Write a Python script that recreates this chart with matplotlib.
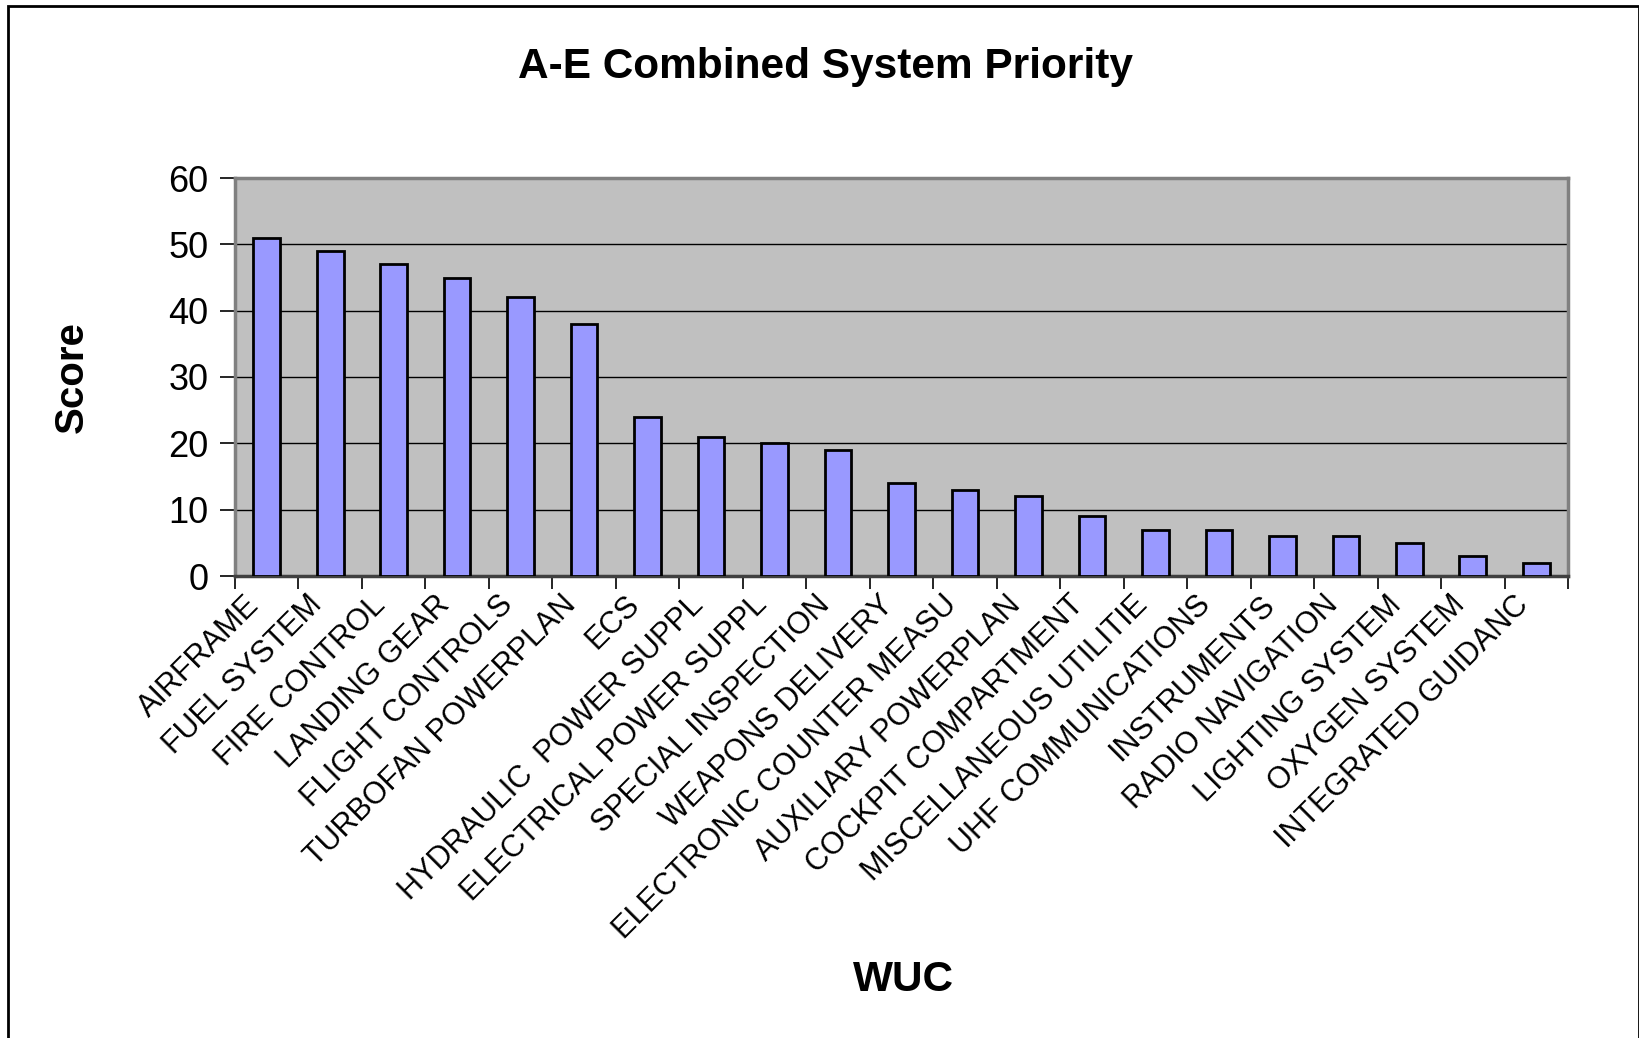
import numpy as np
import matplotlib.pyplot as plt
from matplotlib.patches import Rectangle
from matplotlib.transforms import ScaledTranslation

plt.rcParams['font.family'] = ['Liberation Sans', 'DejaVu Sans']

# Kategorie (etykiety obcięte jak w oryginale)
systems = ["AIRFRAME", "FUEL SYSTEM", "FIRE CONTROL", "LANDING GEAR",
           "FLIGHT CONTROLS", "TURBOFAN POWERPLAN", "ECS",
           "HYDRAULIC  POWER SUPPL", "ELECTRICAL POWER SUPPL",
           "SPECIAL INSPECTION", "WEAPONS DELIVERY",
           "ELECTRONIC COUNTER MEASU", "AUXILIARY POWERPLAN",
           "COCKPIT COMPARTMENT", "MISCELLANEOUS UTILITIE",
           "UHF COMMUNICATIONS", "INSTRUMENTS", "RADIO NAVIGATION",
           "LIGHTING SYSTEM", "OXYGEN SYSTEM", "INTEGRATED GUIDANC"]
scores = [51, 49, 47, 45, 42, 38, 24, 21, 20, 19, 14, 13, 12, 9, 7, 7, 6, 6, 5, 3, 2]
y_ticks = [0, 10, 20, 30, 40, 50, 60]

fig = plt.figure(figsize=(16.4, 10.38), dpi=100)
ax = fig.add_axes([235 / 1640, 1 - 576 / 1038, (1568 - 235) / 1640, (576 - 178) / 1038])

x = np.arange(len(systems))
ax.set_facecolor('#C0C0C0')
ax.bar(x, scores, width=0.42, color='#9999FF', edgecolor='black', linewidth=2, zorder=3)

ax.set_xlim(-0.5, len(systems) - 0.5)
ax.set_ylim(0, 60)
ax.set_yticks(y_ticks)
ax.yaxis.grid(True, color='black', linewidth=1, zorder=1)
ax.set_axisbelow(True)

# ticki na osi x miedzy kategoriami, etykiety na srodku
ax.set_xticks(x)
ax.set_xticklabels(systems, rotation=45, ha='right', rotation_mode='anchor', fontsize=22)
ax.set_xticks(np.arange(-0.5, len(systems)), minor=True)
ax.tick_params(axis='x', which='major', length=0, pad=10)
ax.tick_params(axis='x', which='minor', length=9, width=1.2, color='black')
ax.tick_params(axis='y', length=11, width=1.2, color='black', labelsize=26, pad=8)

shift = ScaledTranslation(-23 / 100, 0, fig.dpi_scale_trans)
for lab in ax.get_xticklabels():
    lab.set_transform(lab.get_transform() + shift)

for s in ax.spines.values():
    s.set_color('#808080')
    s.set_linewidth(2.5)
ax.spines['bottom'].set_color('#404040')

fig.text(826 / 1640, 1 - 67 / 1038, "A-E Combined System Priority",
         ha='center', va='center', fontsize=30.5, fontweight='bold')
fig.text(72 / 1640, 1 - 377 / 1038, "Score", rotation=90,
         ha='center', va='center', fontsize=29, fontweight='bold')
fig.text(903 / 1640, 1 - 980 / 1038, "WUC",
         ha='center', va='center', fontsize=30.5, fontweight='bold')

# ramka wykresu
fig.patches.append(Rectangle((8 / 1640, -0.05), (1639 - 8) / 1640, 1.05 - 6 / 1038,
                             transform=fig.transFigure, fill=False,
                             edgecolor='black', linewidth=2))

fig.savefig('out.png', dpi=100)
